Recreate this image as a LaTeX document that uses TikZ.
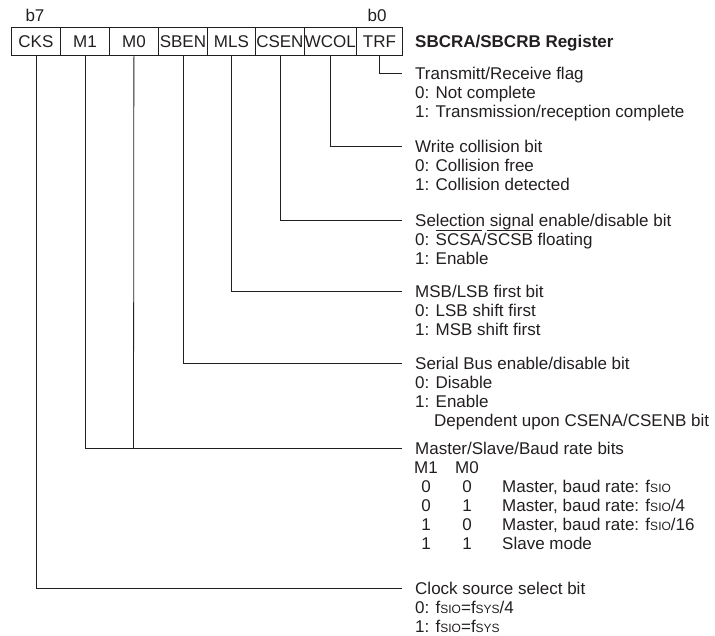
\documentclass[tikz,border=0pt]{standalone}
\usepackage{fontspec}
\setmainfont{Liberation Sans}
\definecolor{ink}{RGB}{35,31,32}
\newcommand{\smc}[1]{{\fontsize{12}{12}\selectfont #1}}
\newcommand{\fsio}{f\smc{SIO}}
\newcommand{\fsys}{f\smc{SYS}}
\newcommand{\ovl}[1]{\leavevmode\vbox{\hrule height 0.9pt\kern 2.2pt\hbox{#1}}}
\begin{document}
\begin{tikzpicture}[x=1pt,y=-1pt,
  every node/.style={font=\fontsize{17}{19}\selectfont, text=ink},
  reg/.style={draw=ink, line width=0.8pt, rectangle, minimum height=28pt, inner sep=0pt, anchor=north west},
  txt/.style={anchor=base west, inner sep=0pt},
  ctr/.style={anchor=base, inner sep=0pt},
  wire/.style={draw=ink, line width=0.8pt}]
\useasboundingbox (0,0) rectangle (715,635);
% register boxes
\node[reg, minimum width=49pt] (cks)  at (11,27)  {CKS};
\node[reg, minimum width=49pt] (m1)   at (60,27)  {M1};
\node[reg, minimum width=49pt] (m0)   at (109,27) {M0};
\node[reg, minimum width=49pt] (sben) at (158,27) {SBEN};
\node[reg, minimum width=48pt] (mls)  at (207,27) {MLS};
\node[reg, minimum width=49pt] (csen) at (255,27) {CSEN};
\node[reg, minimum width=52pt] (wcol) at (304,27) {WCOL};
\node[reg, minimum width=46pt] (trf)  at (356,27) {TRF};
\node[ctr] (b7) at (35,21) {b7};
\node[ctr] (b0) at (377,21) {b0};
\node[txt, font=\fontsize{17}{19}\selectfont\bfseries] (title) at (415,47) {SBCRA/SBCRB Register};
% end points of the connectors
\coordinate (eTRF)  at (402,73);
\coordinate (eWCOL) at (402,146);
\coordinate (eCSEN) at (402,220);
\coordinate (eMLS)  at (402,291);
\coordinate (eSBEN) at (402,363);
\coordinate (eMS)   at (402,448);
\coordinate (jM0)   at (133.5,448);
\coordinate (eCKS)  at (402,588);
% connectors
\draw[wire] (trf.south) |- (eTRF);
\draw[wire] (wcol.south) |- (eWCOL);
\draw[wire] (csen.south) |- (eCSEN);
\draw[wire] (mls.south) |- (eMLS);
\draw[wire] (sben.south) |- (eSBEN);
\draw[wire] (m1.south) |- (eMS);
\draw[wire] (m0.south) -- (jM0);
\draw[wire] (cks.south) |- (eCKS);
% texts
\node[txt] (t1) at (415,79)  {Transmitt/Receive flag};
\node[txt] (t2) at (415,98)  {0: Not complete};
\node[txt] (t3) at (415,117) {1: Transmission/reception complete};
\node[txt] (t4) at (415,152) {Write collision bit};
\node[txt] (t5) at (415,171) {0: Collision free};
\node[txt] (t6) at (415,190) {1: Collision detected};
\node[txt] (t7) at (415,226) {Selection signal enable/disable bit};
\node[txt] (t8) at (415,245) {0: \ovl{SCSA}/\ovl{SCSB} floating};
\node[txt] (t9) at (415,264) {1: Enable};
\node[txt] (t10) at (415,297) {MSB/LSB first bit};
\node[txt] (t11) at (415,316) {0: LSB shift first};
\node[txt] (t12) at (415,335) {1: MSB shift first};
\node[txt] (t13) at (415,369) {Serial Bus enable/disable bit};
\node[txt] (t14) at (415,388) {0: Disable};
\node[txt] (t15) at (415,407) {1: Enable};
\node[txt] (t16) at (415,426) {\hphantom{1:} Dependent upon CSENA/CSENB bit};
\node[txt] (t17) at (415,454) {Master/Slave/Baud rate bits};
\node[txt] (h1) at (414,473) {M1};
\node[txt] (h2) at (455,473) {M0};
\node[ctr] (a1) at (426,492) {0};
\node[ctr] (b1) at (467,492) {0};
\node[txt] (c1) at (502,492) {Master, baud rate: \fsio};
\node[ctr] (a2) at (426,511) {0};
\node[ctr] (b2) at (467,511) {1};
\node[txt] (c2) at (502,511) {Master, baud rate: \fsio/4};
\node[ctr] (a3) at (426,530) {1};
\node[ctr] (b3) at (467,530) {0};
\node[txt] (c3) at (502,530) {Master, baud rate: \fsio/16};
\node[ctr] (a4) at (426,549) {1};
\node[ctr] (b4) at (467,549) {1};
\node[txt] (c4) at (502,549) {Slave mode};
\node[txt] (t18) at (415,594) {Clock source select bit};
\node[txt] (t19) at (415,613) {0: \fsio=\fsys/4};
\node[txt] (t20) at (415,632) {1: \fsio=\fsys};
\end{tikzpicture}
\end{document}
